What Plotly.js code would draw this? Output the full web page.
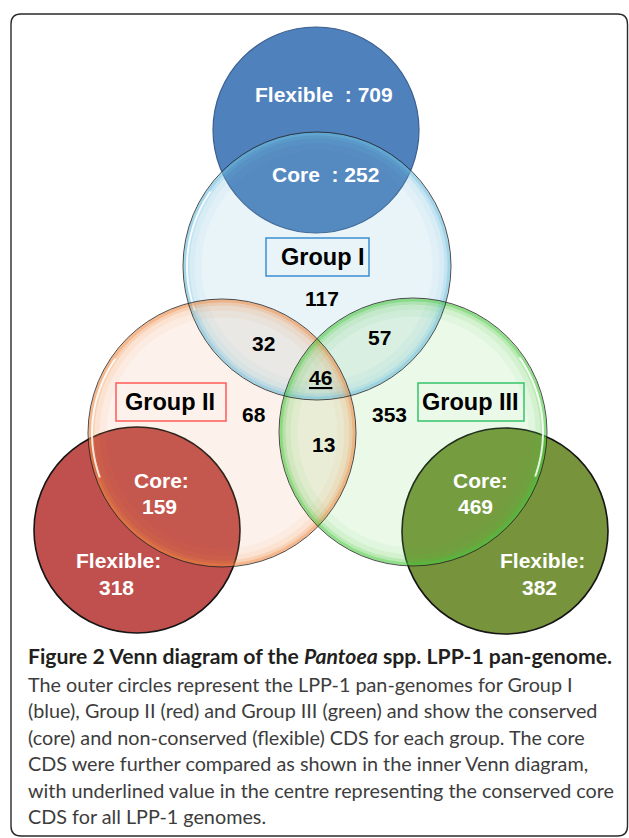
<!DOCTYPE html>
<html>
<head>
<meta charset="utf-8">
<script src="https://cdn.plot.ly/plotly-3.0.1.min.js"></script>
<style>
  html, body { margin: 0; padding: 0; background: #ffffff; }
  #chart { width: 629px; height: 838px; }
</style>
</head>
<body>
<div id="chart"></div>
<script>
// ---------------- DATA ----------------
const groups = ['Group I', 'Group II', 'Group III'];
const flexibleCDS = [709, 318, 382];
const coreCDS = [252, 159, 469];
// inner Venn of the core CDS
const regionNames = ['I only', 'I & II', 'I & III', 'I & II & III', 'II only', 'III only', 'II & III'];
const regionValues = [117, 32, 57, 46, 68, 353, 13];
const captionTitle = 'Figure 2 Venn diagram of the <i>Pantoea</i> spp. LPP-1 pan-genome.';
const captionLines = [
  'The outer circles represent the LPP-1 pan-genomes for Group I',
  '(blue), Group II (red) and Group III (green) and show the conserved',
  '(core) and non-conserved (flexible) CDS for each group. The core',
  'CDS were further compared as shown in the inner Venn diagram,',
  'with underlined value in the centre representing the conserved core',
  'CDS for all LPP-1 genomes.'
];

// ---------------- LAYOUT GEOMETRY (pixels) ----------------
const W = 629, H = 838;
const solid = [
  {cx: 316, cy: 130, r: 103, fill: '#4f81bd', line: '#3b5f8e', lw: 1.2},
  {cx: 137, cy: 530, r: 103, fill: '#c0504d', line: '#151515', lw: 1.6},
  {cx: 505, cy: 531, r: 103, fill: '#77933c', line: '#151515', lw: 1.6}
];
const glass = [
  {cx: 317, cy: 266, r: 134, fill: 'rgba(120,185,215,0.16)', glow: [105, 190, 222], hl: [160, 215]},
  {cx: 222, cy: 433, r: 134, fill: 'rgba(240,150,90,0.12)', glow: [238, 135, 60], hl: [160, 215]},
  {cx: 413, cy: 432, r: 134, fill: 'rgba(110,215,95,0.14)', glow: [70, 200, 60], hl: [-35, 20]}
];
const boxes = [
  {x0: 266, x1: 369, y0: 238, y1: 276, color: '#3b8fd1'},
  {x0: 116, x1: 226, y0: 383, y1: 421, color: '#ff5a5a'},
  {x0: 418, x1: 524, y0: 383, y1: 421, color: '#35c46a'}
];
const groupLabelPos = [[323, 257], [170, 402], [470.5, 402]];
const regionPos = [[322, 298], [263, 343], [379, 337.5], [320, 377], [254, 414], [389, 414], [323, 444]];
const outerPos = [
  {flex: [324, 94.5], core: [325, 174.5]},
  {flexL: [118, 560.5], flexV: [116, 587.5], coreL: [161, 480], coreV: [159, 506]},
  {flexL: [542, 560.5], flexV: [539.5, 587.5], coreL: [480, 480], coreV: [475, 506]}
];
const capX = 26;
const capBaselines = [664, 691.5, 718, 744.5, 771, 797.5, 824];

// ---------------- BUILD ----------------
const shapes = [];
const SANS = 'Liberation Sans, Arial, Helvetica, sans-serif';
const CAPFONT = 'Lato, "Open Sans", sans-serif';

function circ(cx, cy, r, fill, line, lw) {
  return {type: 'circle', xref: 'x', yref: 'y', x0: cx - r, x1: cx + r, y0: cy - r, y1: cy + r,
          fillcolor: fill, line: {color: line, width: lw}, layer: 'above'};
}
function arcPath(cx, cy, r, a0, a1) {
  let p = '';
  const n = 30;
  for (let i = 0; i <= n; i++) {
    const a = (a0 + (a1 - a0) * i / n) * Math.PI / 180;
    const x = cx + r * Math.cos(a), y = cy + r * Math.sin(a);
    p += (i === 0 ? 'M' : 'L') + x.toFixed(2) + ',' + y.toFixed(2);
  }
  return p;
}

// frame (rounded rectangle)
(function () {
  const x0 = 11, y0 = 14, x1 = 627.5, y1 = 836, rr = 10;
  const p = `M${x0 + rr},${y0} L${x1 - rr},${y0} Q${x1},${y0} ${x1},${y0 + rr} L${x1},${y1 - rr} Q${x1},${y1} ${x1 - rr},${y1} L${x0 + rr},${y1} Q${x0},${y1} ${x0},${y1 - rr} L${x0},${y0 + rr} Q${x0},${y0} ${x0 + rr},${y0} Z`;
  shapes.push({type: 'path', xref: 'x', yref: 'y', path: p, line: {color: '#2a2a2a', width: 1.4}, fillcolor: 'rgba(0,0,0,0)', layer: 'below'});
})();

solid.forEach(c => shapes.push(circ(c.cx, c.cy, c.r, c.fill, c.line, c.lw)));
glass.forEach(g => shapes.push(circ(g.cx, g.cy, g.r, g.fill, 'rgba(0,0,0,0)', 0)));
const rings = [[2, 3, 0.55], [5, 3, 0.30], [9, 5, 0.14], [15, 7, 0.06]];
glass.forEach(g => {
  rings.forEach(([d, w, a]) => {
    shapes.push(circ(g.cx, g.cy, g.r - d, 'rgba(0,0,0,0)', `rgba(${g.glow[0]},${g.glow[1]},${g.glow[2]},${a})`, w));
  });
  shapes.push({type: 'path', xref: 'x', yref: 'y', path: arcPath(g.cx, g.cy, g.r - 4, g.hl[0], g.hl[1]),
               line: {color: 'rgba(255,255,255,0.85)', width: 2}, layer: 'above'});
});
glass.forEach(g => shapes.push(circ(g.cx, g.cy, g.r, 'rgba(0,0,0,0)', 'rgba(35,35,35,0.8)', 1)));
boxes.forEach(b => shapes.push({type: 'rect', xref: 'x', yref: 'y', x0: b.x0, x1: b.x1, y0: b.y0, y1: b.y1,
  line: {color: b.color, width: 1.5}, fillcolor: 'rgba(0,0,0,0)', layer: 'above'}));

const annotations = [];
function ann(x, y, text, size, color, extra) {
  annotations.push(Object.assign({x: x, y: y, xref: 'x', yref: 'y', text: text, showarrow: false,
    xanchor: 'center', yanchor: 'middle', font: {family: SANS, size: size, color: color, weight: 700}}, extra || {}));
}
const NB = '\u00a0';
ann(outerPos[0].flex[0], outerPos[0].flex[1], 'Flexible' + NB + NB + ':' + NB + flexibleCDS[0], 21, '#ffffff');
ann(outerPos[0].core[0], outerPos[0].core[1], 'Core' + NB + NB + ':' + NB + coreCDS[0], 21, '#ffffff');
[1, 2].forEach(i => {
  const p = outerPos[i];
  ann(p.coreL[0], p.coreL[1], 'Core:', 21, '#ffffff');
  ann(p.coreV[0], p.coreV[1], String(coreCDS[i]), 21, '#ffffff');
  ann(p.flexL[0], p.flexL[1], 'Flexible:', 21, '#ffffff');
  ann(p.flexV[0], p.flexV[1], String(flexibleCDS[i]), 21, '#ffffff');
});
groups.forEach((g, i) => ann(groupLabelPos[i][0], groupLabelPos[i][1], g, 23.5, '#000000'));
regionValues.forEach((v, i) => {
  const extra = regionNames[i] === 'I & II & III'
    ? {font: {family: SANS, size: 21, color: '#000000', weight: 700, lineposition: 'under'}} : {};
  ann(regionPos[i][0], regionPos[i][1], String(v), 21, '#000000', extra);
});
// caption
const titleSize = 21.2, bodySize = 19.8;
[('<b>' + captionTitle + '</b>')].concat(captionLines).forEach((t, i) => {
  const s = i === 0 ? titleSize : bodySize;
  annotations.push({x: capX, y: capBaselines[i] - 0.387 * s, xref: 'x', yref: 'y', text: t, showarrow: false,
    xanchor: 'left', yanchor: 'middle', align: 'left',
    font: {family: CAPFONT, size: s, color: i === 0 ? '#231f20' : '#3d3d3d'}});
});

const data = [{type: 'scatter', x: [0, W], y: [0, H], mode: 'markers', marker: {opacity: 0}, hoverinfo: 'skip', showlegend: false}];

const layout = {
  width: W, height: H,
  margin: {l: 0, r: 0, t: 0, b: 0, pad: 0},
  paper_bgcolor: '#ffffff', plot_bgcolor: '#ffffff',
  xaxis: {range: [0, W], visible: false, fixedrange: true},
  yaxis: {range: [H, 0], visible: false, fixedrange: true},
  showlegend: false,
  shapes: shapes,
  annotations: annotations
};
Plotly.newPlot('chart', data, layout, {staticPlot: true, displayModeBar: false});
</script>
</body>
</html>
